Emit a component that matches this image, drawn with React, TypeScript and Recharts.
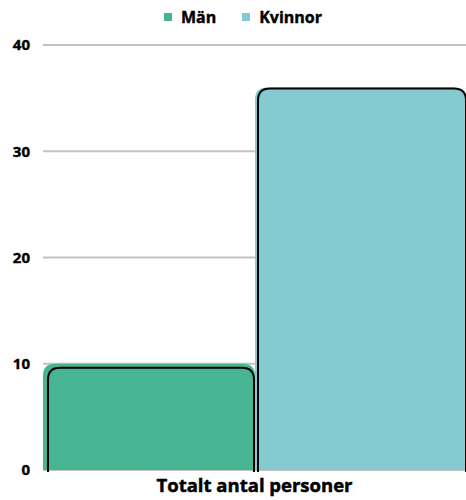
import { BarChart, Bar, XAxis, YAxis, CartesianGrid, Legend } from "recharts";

const CATEGORIES = ["Totalt antal personer"];
const MAN_VALUES = [10];
const KVINNOR_VALUES = [36];
const Y_TICKS = [0, 10, 20, 30, 40];

const data = CATEGORIES.map((c, i) => ({
  name: c,
  man: MAN_VALUES[i],
  kvinnor: KVINNOR_VALUES[i],
}));

const SERIES = [
  { key: "man", label: "Män", color: "#47b593", inset: { l: 5, r: 1, t: 4 } },
  { key: "kvinnor", label: "Kvinnor", color: "#85cad0", inset: { l: 3, r: 1, t: 1 } },
];

const FONT = "'Open Sans', 'Noto Sans', sans-serif";

function OutlinedBar(props: any) {
  const { x, y, width, height, fill, inset } = props;
  if (!height || height <= 0) return null;
  const r = 12;
  const bottom = y + height;
  const fillPath = `M${x},${bottom} L${x},${y + r} Q${x},${y} ${x + r},${y} L${x + width - r},${y} Q${x + width},${y} ${x + width},${y + r} L${x + width},${bottom} Z`;
  const lx = x + inset.l;
  const rx = x + width - inset.r;
  const ty = y + inset.t;
  const outline = `M${lx},${bottom + 2} L${lx},${ty + r} Q${lx},${ty} ${lx + r},${ty} L${rx - r},${ty} Q${rx},${ty} ${rx},${ty + r} L${rx},${bottom + 2}`;
  return (
    <g>
      <path d={fillPath} fill={fill} />
      <path d={outline} fill="none" stroke="#000" strokeWidth={2} />
    </g>
  );
}

function LegendContent() {
  return (
    <div
      style={{
        display: "flex",
        justifyContent: "center",
        alignItems: "center",
        gap: 26,
        fontFamily: FONT,
        fontWeight: 700,
        fontSize: 16,
        color: "#000",
        WebkitTextStroke: "0.4px #000",
        paddingLeft: 20,
      }}
    >
      {SERIES.map((s) => (
        <div key={s.key} style={{ display: "flex", alignItems: "center" }}>
          <span style={{ width: 8, height: 8, background: s.color, marginRight: 9, display: "inline-block" }} />
          <span>{s.label}</span>
        </div>
      ))}
    </div>
  );
}

export default function App() {
  return (
    <div style={{ position: "absolute", left: 0, top: 0, background: "#fff" }}>
      <BarChart
        width={466}
        height={500}
        data={data}
        margin={{ top: 10, right: 0, bottom: 0, left: 0 }}
        barCategoryGap={0}
        barGap={0}
      >
        <CartesianGrid vertical={false} stroke="#c2c2c2" strokeWidth={2} />
        <Legend verticalAlign="top" height={35} content={<LegendContent />} wrapperStyle={{ top: 6 }} />
        <XAxis
          dataKey="name"
          height={30}
          axisLine={false}
          tickLine={false}
          tick={{ fontFamily: FONT, fontWeight: 700, fontSize: 18.5, fill: "#000", stroke: "#000", strokeWidth: 0.5, dy: 1 }}
          tickMargin={2}
        />
        <YAxis
          width={43}
          domain={[0, 40]}
          ticks={Y_TICKS}
          axisLine={false}
          tickLine={false}
          tick={{ fontFamily: FONT, fontWeight: 700, fontSize: 15, fill: "#000", stroke: "#000", strokeWidth: 0.4 }}
          tickMargin={7}
        />
        {SERIES.map((s) => (
          <Bar
            key={s.key}
            dataKey={s.key}
            name={s.label}
            fill={s.color}
            isAnimationActive={false}
            shape={(p: any) => <OutlinedBar {...p} inset={s.inset} />}
          />
        ))}
      </BarChart>
    </div>
  );
}
